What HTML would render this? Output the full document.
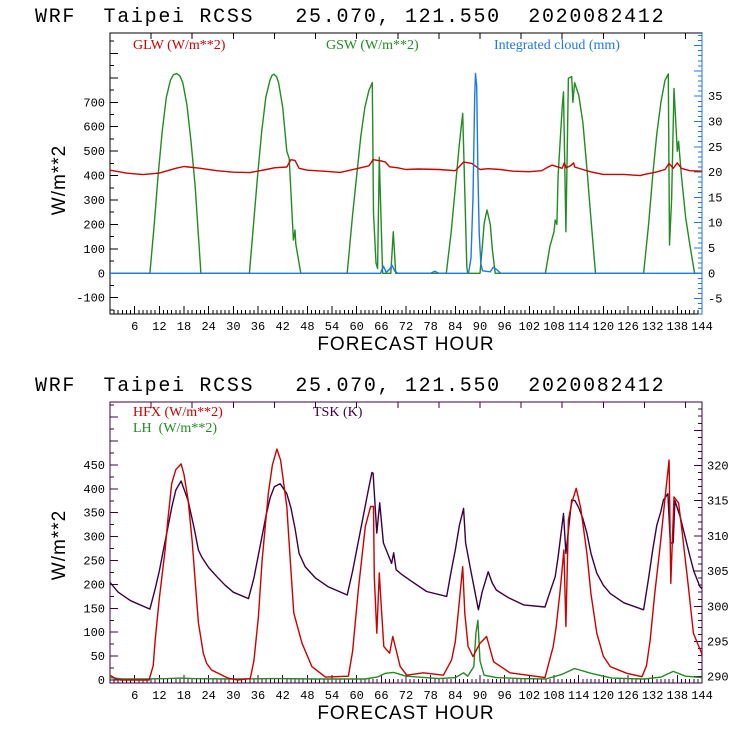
<!DOCTYPE html>
<html><head><meta charset="utf-8"><style>
html,body{margin:0;padding:0;background:#fff;width:740px;height:740px;overflow:hidden}
svg{display:block}
.ttl{font-family:"Liberation Mono",monospace;font-size:20px;fill:#000;letter-spacing:1.7px}
.tk{font-family:"Liberation Mono",monospace;font-size:12px}
.lg{font-family:"Liberation Serif",serif;font-size:14px}
.ax{font-family:"Liberation Sans",sans-serif;font-size:19px;fill:#000;letter-spacing:1px}
</style></head><body>
<svg id="c" width="740" height="740" viewBox="0 0 740 740">
<text class="ttl" x="35" y="22" xml:space="preserve">WRF  Taipei RCSS   25.070, 121.550  2020082412</text>
<text class="ttl" x="35" y="391" xml:space="preserve">WRF  Taipei RCSS   25.070, 121.550  2020082412</text>
<text class="lg" x="133" y="49" fill="#cc0000">GLW (W/m**2)</text>
<text class="lg" x="326" y="49" fill="#228b22">GSW (W/m**2)</text>
<text class="lg" x="494" y="49" fill="#1e78e6">Integrated cloud (mm)</text>
<text class="lg" x="133" y="416" fill="#cc0000">HFX (W/m**2)</text>
<text class="lg" x="133" y="432" fill="#228b22" xml:space="preserve">LH  (W/m**2)</text>
<text class="lg" x="313" y="416" fill="#3c0040">TSK (K)</text>
<text class="ax" transform="translate(65,180) rotate(-90)" text-anchor="middle">W/m**2</text>
<text class="ax" transform="translate(65,545) rotate(-90)" text-anchor="middle">W/m**2</text>
<text class="ax" x="406" y="350" text-anchor="middle">FORECAST HOUR</text>
<text class="ax" x="406" y="719" text-anchor="middle">FORECAST HOUR</text>
</svg>
<script>
// ---- data (hours / values) ----
const glwHours=[0,4,8,12,16,18,22,26,30,34,38,40,43,44,45,46,48,52,56,60,63,64,66,67,68,70,72,75,80,84,86,88,90,92,95,98,102,105,106,107.5,110,110.5,111,112,112.8,113,115,117,120,125,129,130,133,135,136,137,138,139,141,144];
const glwVals=[422,410,404,410,430,437,430,420,414,412,425,432,435,465,462,430,422,418,413,428,440,465,460,455,436,432,425,427,425,420,455,450,425,428,425,418,416,420,430,443,430,452,432,440,452,435,425,415,405,405,400,405,415,425,450,430,452,430,420,418];
const gswHours=[0,9.7,10.7,11.7,12.7,13.7,14.7,15.4,16.2,17,17.7,18.7,19.7,20.7,22.1,33.9,34.9,35.9,36.9,37.9,38.9,39.4,39.9,40.5,41,42,43,43.6,44.6,45,45.2,46.4,57.7,59,60,61,62,63,63.8,64.1,64.7,65.1,65.5,66.3,68.3,68.9,69.5,81.8,83,84,85,85.8,86.4,86.8,87,90,90.5,91,91.2,91.7,92.5,93,93.7,105.9,107,108,108.3,108.7,109,110,110.3,110.9,111.5,112.3,112.6,113,114,115,116,117,118.1,129.8,131,132,133,134,135,135.8,136.1,136.6,137.2,138,138.3,138.6,139,140,141,142.2,144];
const gswVals=[0,0,190,400,580,720,790,812,818,808,780,690,540,360,0,0,200,400,580,720,790,810,815,805,780,680,500,470,136,177,120,0,0,240,400,560,680,750,780,247,42,20,475,0,0,170,0,0,170,350,530,655,273,27,0,0,100,200,220,259,200,100,0,0,110,170,218,200,400,680,743,170,798,805,700,780,730,620,430,220,0,0,200,400,570,700,790,816,116,300,757,500,540,480,400,230,120,0,0];
const cloudHours=[0,65.8,66.5,67.2,68,68.6,69.3,70,78,79,80,81,87.2,87.8,88.3,88.7,88.9,89.2,89.5,89.8,90.2,90.6,92.5,93.2,94,95,144];
const cloudVals=[0,0,1.4,0.2,0.8,1.6,0.4,0,0,0.4,0,0,0,3,15,35,39.5,37,20,8,2,0.5,0.3,1.2,0.8,0,0];
const hfxHours=[0,1.5,2.5,9.5,10.5,11,12,13.4,14,15,16,17.3,18,19,20,20.7,21.5,22.7,23.5,24.7,28.7,31,34.1,35,36.1,37,38.5,39.5,40.6,41.5,43,44,44.7,46.7,49.1,52.4,58,59,60.4,62.1,63.4,64.1,64.3,64.9,65.5,66,66.6,68,68.8,70.6,72.2,76.2,81.1,83.1,84,84.7,85.8,86.3,87.1,88.3,90,91.6,93.3,97.3,105.8,107.8,108.5,109.5,110.4,110.9,111.5,112.3,113.4,114.5,116,117,118.4,120,121.7,125.7,129.4,130.5,131.4,132.5,133.8,135,136,136.4,137.2,138.3,139.1,140.7,141.9,143.9,144];
const hfxVals=[10,2,0,0,30,84,170,272,330,411,440,452,430,377,290,209,120,56,35,21,4,0,3,40,132,250,390,450,483,460,363,230,140,77,28,6,8,60,188,321,363,363,216,98,224,153,70,56,91,28,10,15,10,42,80,140,237,140,70,49,77,91,38,15,5,70,110,188,272,112,335,370,401,360,265,180,98,50,28,14,7,30,84,180,279,380,460,202,383,370,314,195,98,56,50];
const lhHours=[0,3,8,14,17,20,30,40,50,62,65,67,69,72,80,84,86,87,88.5,89,89.5,90,91,94,100,106,110,113,117,122,130,134,137,140,144];
const lhVals=[5,2,2,3,4,3,2,3,2,2,6,14,16,8,3,5,15,8,28,98,125,40,10,5,3,2,12,24,14,4,2,6,18,8,5];
const tskHours=[0,2,5,9.7,11,12,13,14,15,16,17.3,19,20.5,21.5,22.3,24,26,28,30,33.7,35,36,37,38,39,40,41.4,43,44,45,46,47.5,50,53,57.7,59,60,61,62,63,63.7,64,64.9,65.6,66.5,68.5,69,69.6,71,73,77,81.9,83,84,85,86,86.5,87.6,89.6,90.5,92,93,94,97,100.6,105.8,107,108.3,109,110.3,110.9,112.3,113.1,114,115,116,117,118.4,120,121.7,125,129.8,131,132,133,134,134.6,135.7,136.3,137,137.4,138.7,141.1,142,143.5,144];
const tskVals=[303.4,302,300.8,299.6,302.5,305,308,311,314,316.5,317.8,315,311,308,307,305.5,304.2,303,302,301.1,304,307,310,313,315.5,317,317.4,316,314,311.1,307.5,305.6,304,302.8,301.6,305,308,311,314,317,319,318.9,310.4,314.7,309,306.1,307.6,305.2,304.5,303.7,302.1,301.4,305,308,311.5,313.9,309,305.6,299.5,302,304.9,303.3,302.3,301.2,300.2,299.9,302,304.2,307,313.2,307.5,315.1,315,314,312.5,310.4,307.5,304.7,303,301.8,300.5,299.5,304,308,311.5,313.5,315.1,316,309,309,315,312.7,307,305,302.8,302.5];
const topLeftTicks=[-100,0,100,200,300,400,500,600,700];
const topRightTicks=[-5,0,5,10,15,20,25,30,35];
const botLeftTicks=[0,50,100,150,200,250,300,350,400,450];
const botRightTicks=[290,295,300,305,310,315,320];
const xTicks=[6,12,18,24,30,36,42,48,54,60,66,72,78,84,90,96,102,108,114,120,126,132,138,144];

// ---- axes ----
const X0=110,X1=702,HMAX=144;
const xs=h=>X0+(X1-X0)*h/HMAX;
const T={top:33,bot:314};
const yTop=v=>273.3-v*0.2443;
const yCloud=v=>273.3-v*5.06;
const B={top:402,bot:683};
const yBot=v=>680-v*0.478;
const yTsk=v=>676.7-(v-290)*7.04;

const svg=document.getElementById('c');
const NS='http://www.w3.org/2000/svg';
function mk(tag,attrs,parent){const e=document.createElementNS(NS,tag);for(const k in attrs)e.setAttribute(k,attrs[k]);(parent||svg).appendChild(e);return e;}
function line(x1,y1,x2,y2,c,p){return mk('line',{x1,y1,x2,y2,stroke:c,'stroke-width':1,'shape-rendering':'crispEdges'},p);}
function txt(x,y,s,anchor,c,p){const t=mk('text',{x,y,'text-anchor':anchor,fill:c,class:'tk'},p);t.textContent=s;return t;}
function series(hours,vals,yf,color,name,clip){
  let d='';for(let i=0;i<hours.length;i++)d+=(i?'L':'M')+xs(hours[i]).toFixed(1)+','+yf(vals[i]).toFixed(1);
  const p=mk('path',{d,fill:'none',stroke:color,'stroke-width':1.4,'stroke-linejoin':'round','clip-path':'url(#'+clip+')'});
  
  
}
const defs=mk('defs',{});
const c1=mk('clipPath',{id:'clipT'},defs);mk('rect',{x:X0,y:T.top,width:X1-X0,height:T.bot-T.top},c1);
const c2=mk('clipPath',{id:'clipB'},defs);mk('rect',{x:X0,y:B.top,width:X1-X0,height:B.bot-B.top},c2);

// top panel axes
const gT=mk('g',{});


mk('rect',{x:X0,y:T.top,width:X1-X0,height:T.bot-T.top,fill:'none',stroke:'#000','stroke-width':1,'shape-rendering':'crispEdges'},gT);
line(X1,T.top,X1,T.bot,'#1e78e6',gT);
for(let v=-150;v<=950;v+=50){const y=yTop(v);if(y<T.top||y>T.bot)continue;line(X0,y,X0+(v%100===0?8:4),y,'#000',gT);}
topLeftTicks.forEach(v=>txt(105,yTop(v)+4,String(v),'end','#000',gT));
for(let v=-8;v<=47;v++){const y=yCloud(v);if(y<T.top||y>T.bot)continue;line(X1,y,X1-(v%5===0?8:4),y,'#1e78e6',gT);}
topRightTicks.forEach(v=>txt(708,yCloud(v)+4,String(v),'start','#000',gT));
for(let h=1;h<HMAX;h++){line(xs(h),T.bot,xs(h),T.bot-(h%6===0?8:4),'#000',gT);}
for(let h=10;h<HMAX;h+=10){line(xs(h),T.top,xs(h),T.top+6,'#000',gT);}
xTicks.forEach(h=>txt(xs(h),330,String(h),'middle','#000',gT));

// bottom panel axes
const AX='#3c0040';
const gB=mk('g',{});


mk('rect',{x:X0,y:B.top,width:X1-X0,height:B.bot-B.top,fill:'none',stroke:AX,'stroke-width':1,'shape-rendering':'crispEdges'},gB);
for(let v=0;v<=575;v+=25){const y=yBot(v);if(y<B.top||y>B.bot)continue;line(X0,y,X0+(v%50===0?8:4),y,AX,gB);}
botLeftTicks.forEach(v=>txt(105,yBot(v)+4,String(v),'end','#000',gB));
for(let v=289;v<=330;v++){const y=yTsk(v);if(y<B.top||y>B.bot)continue;line(X1,y,X1-(v%5===0?8:4),y,AX,gB);}
botRightTicks.forEach(v=>txt(707,yTsk(v)+4,String(v),'start','#000',gB));
for(let h=1;h<HMAX;h++){line(xs(h),B.bot,xs(h),B.bot-(h%6===0?8:4),AX,gB);}
for(let h=10;h<HMAX;h+=10){line(xs(h),B.top,xs(h),B.top+6,AX,gB);}
xTicks.forEach(h=>txt(xs(h),699,String(h),'middle','#000',gB));

// series
series(gswHours,gswVals,yTop,'#228b22','gsw-line','clipT');
series(glwHours,glwVals,yTop,'#cc0000','glw-line','clipT');
series(cloudHours,cloudVals,yCloud,'#1e78e6','cloud-line','clipT');
series(lhHours,lhVals,yBot,'#228b22','lh-line','clipB');
series(tskHours,tskVals,yTsk,'#3c0040','tsk-line','clipB');
series(hfxHours,hfxVals,yBot,'#cc0000','hfx-line','clipB');
</script>
</body></html>
